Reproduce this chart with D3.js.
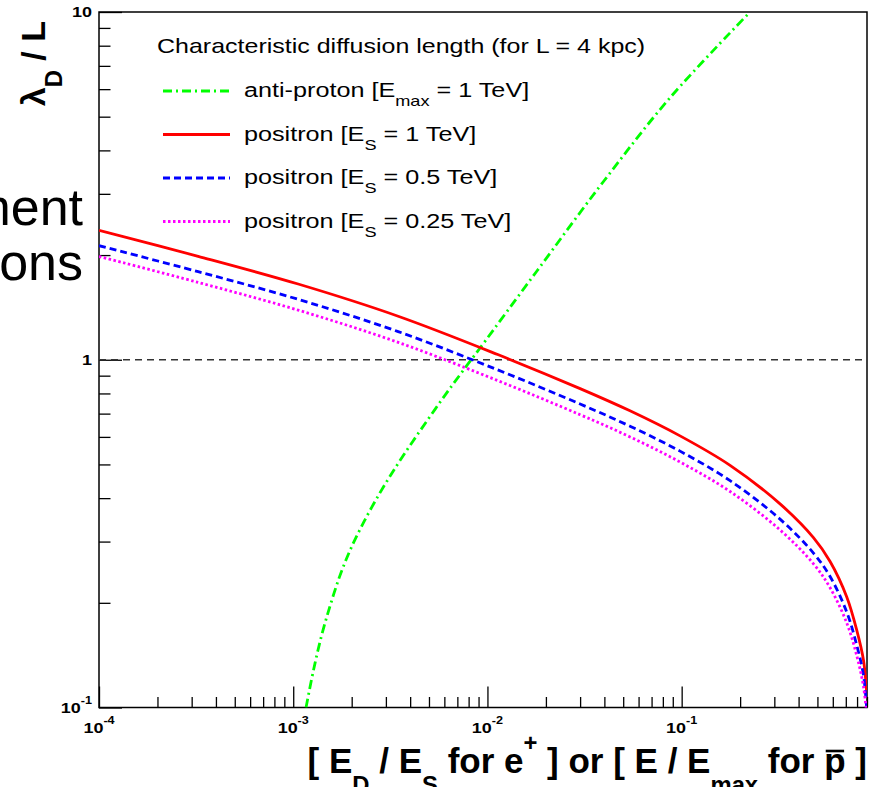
<!DOCTYPE html>
<html>
<head>
<meta charset="utf-8">
<script src="https://cdn.jsdelivr.net/npm/d3@7"></script>
<style>
    body { margin: 0; background: #fff; }
    svg text { font-family: "Liberation Sans", Arial, Helvetica, sans-serif; }
</style>
</head>
<body>
<div id="chart"></div>
<script>
//Data (E_D/E_S or E/E_max -> lambda_D / L)
const ratioPositron = [1e-4, 3.24e-4, 1.06e-3, 3.47e-3, 1.13e-2, 3.0e-2, 5.42e-2, 9.81e-2, 0.1775, 0.321, 0.477, 0.581, 0.708, 0.797, 0.863, 0.897];
const lambdaPositron1 = [2.355, 1.984, 1.651, 1.334, 1.035, 0.826, 0.713, 0.604, 0.497, 0.385, 0.308, 0.263, 0.208, 0.167, 0.137, 0.110];
const lambdaPositron05 = [2.128, 1.792, 1.492, 1.205, 0.935, 0.746, 0.644, 0.546, 0.449, 0.348, 0.278, 0.238, 0.188, 0.151, 0.124, 0.099];
const lambdaPositron025 = [1.982, 1.669, 1.389, 1.122, 0.871, 0.695, 0.600, 0.508, 0.418, 0.324, 0.259, 0.221, 0.175, 0.141, 0.115, 0.095];

const ratioAntiproton = [1.164e-3, 1.27e-3, 1.40e-3, 1.55e-3, 1.74e-3, 1.96e-3, 2.30e-3, 2.80e-3, 3.41e-3, 4.15e-3, 5.06e-3, 6.17e-3, 7.37e-3, 9.16e-3, 1.79e-2, 3.95e-2, 8.71e-2, 0.225];
const lambdaAntiproton = [0.1, 0.1276, 0.1611, 0.1964, 0.2395, 0.2828, 0.3401, 0.4148, 0.496, 0.585, 0.6867, 0.8031, 0.9194, 1.081, 1.794, 3.25, 5.668, 10];

//Axes
const xDomain = [1e-4, 0.9];
const yDomain = [0.1, 10];
const xMajorTicks = [1e-4, 1e-3, 1e-2, 1e-1];
const xTickExponents = ['-4', '-3', '-2', '-1'];
const yMajorTicks = [0.1, 1, 10];
const yTickBases = ['10', '1', '10'];
const yTickExponents = ['-1', '', ''];
const referenceLevel = 1;

//Legend
const legendTitle = 'Characteristic diffusion length (for L = 4 kpc)';
const legendLabels = [
    [{t: 'anti-proton [E'}, {t: 'max', sub: true}, {t: ' = 1 TeV]'}],
    [{t: 'positron [E'}, {t: 'S', sub: true}, {t: ' = 1 TeV]'}],
    [{t: 'positron [E'}, {t: 'S', sub: true}, {t: ' = 0.5 TeV]'}],
    [{t: 'positron [E'}, {t: 'S', sub: true}, {t: ' = 0.25 TeV]'}]
];
const slideText = ['ment', 'ons'];

const COLOR_GREEN = '#00ff00', COLOR_RED = '#ff0000', COLOR_BLUE = '#0000ff', COLOR_MAGENTA = '#ff00ff';

let series = [
    {x: ratioAntiproton, y: lambdaAntiproton, color: COLOR_GREEN, dash: '9,4,2,4'},
    {x: ratioPositron, y: lambdaPositron1, color: COLOR_RED, dash: null},
    {x: ratioPositron, y: lambdaPositron05, color: COLOR_BLUE, dash: '7,4'},
    {x: ratioPositron, y: lambdaPositron025, color: COLOR_MAGENTA, dash: '2.5,2.5'}
];

let width = 880, height = 787;
let frame = {left: 99, right: 867, top: 12, bottom: 707.5};
let stretch = 1.2; //texts of the original are drawn wider than high

let svg = d3.select('#chart')
    .append('svg')
        .attr('width', width)
        .attr('height', height)
        .style('display', 'block');

svg.append('rect').attr('width', width).attr('height', height).attr('fill', '#fff');

//Leftover slide text at the left edge
svg.append('g')
    .selectAll('text')
    .data(slideText)
    .enter()
    .append('text')
    .attr('x', 83)
    .attr('y', function(d, i) { return 225 + i * 55; })
    .attr('text-anchor', 'end')
    .attr('font-size', 52)
    .attr('fill', '#000')
    .text(function(d) { return d; });

let x = d3.scaleLog().domain(xDomain).range([frame.left, frame.right]);
let y = d3.scaleLog().domain(yDomain).range([frame.bottom, frame.top]);

//Minor ticks (2..9 in every decade)
let xMinor = [], yMinor = [];
for (let e = -4; e <= -1; e++) {
    for (let k = 2; k <= 9; k++) {
        let v = k * Math.pow(10, e);
        if (v <= xDomain[1]) xMinor.push(v);
    }
}
for (let e = -1; e <= 0; e++) {
    for (let k = 2; k <= 9; k++) yMinor.push(k * Math.pow(10, e));
}

//Frame
svg.append('rect')
    .attr('x', frame.left)
    .attr('y', frame.top)
    .attr('width', frame.right - frame.left)
    .attr('height', frame.bottom - frame.top)
    .attr('fill', 'none')
    .attr('stroke', '#000')
    .attr('stroke-width', 1.5);

function styleAxis(g) {
    g.select('.domain').remove();
    g.selectAll('line').attr('stroke', '#000').attr('stroke-width', 1.3);
}

svg.append('g')
    .attr('transform', 'translate(0,' + frame.bottom + ')')
    .call(d3.axisBottom(x).tickValues(xMajorTicks).tickSize(-21).tickFormat(''))
    .call(styleAxis);
svg.append('g')
    .attr('transform', 'translate(0,' + frame.bottom + ')')
    .call(d3.axisBottom(x).tickValues(xMinor).tickSize(-10.5).tickFormat(''))
    .call(styleAxis);
svg.append('g')
    .attr('transform', 'translate(' + frame.left + ',0)')
    .call(d3.axisLeft(y).tickValues(yMajorTicks).tickSize(-23).tickFormat(''))
    .call(styleAxis);
svg.append('g')
    .attr('transform', 'translate(' + frame.left + ',0)')
    .call(d3.axisLeft(y).tickValues(yMinor).tickSize(-11.5).tickFormat(''))
    .call(styleAxis);

//Tick labels, 10^n written with a superscript
function powerLabel(sel, base, exp, size) {
    sel.append('tspan').text(base);
    if (exp) {
        sel.append('tspan')
            .attr('font-size', size * 0.7)
            .attr('dy', -size * 0.6)
            .text(exp);
    }
}

svg.append('g')
    .selectAll('text')
    .data(xMajorTicks)
    .enter()
    .append('text')
    .attr('transform', function(d) { return 'translate(' + x(d) + ',' + (frame.bottom + 25) + ') scale(' + stretch + ',1)'; })
    .attr('text-anchor', 'middle')
    .attr('font-size', 15)
    .attr('font-weight', 'bold')
    .each(function(d, i) { powerLabel(d3.select(this), '10', xTickExponents[i], 15); });

svg.append('g')
    .selectAll('text')
    .data(yMajorTicks)
    .enter()
    .append('text')
    .attr('transform', function(d) { return 'translate(' + (frame.left - 7) + ',' + (y(d) + 5) + ') scale(' + stretch + ',1)'; })
    .attr('text-anchor', 'end')
    .attr('font-size', 15)
    .attr('font-weight', 'bold')
    .each(function(d, i) { powerLabel(d3.select(this), yTickBases[i], yTickExponents[i], 15); });

//Rich text helper (sub / superscripts)
function richText(sel, parts, size, subScale, subShift, supShift) {
    let shift = 0;
    parts.forEach(function(p) {
        let target = p.sub ? subShift : (p.sup ? -supShift : 0);
        sel.append('tspan')
            .attr('dy', target - shift)
            .attr('font-size', (p.sub || p.sup) ? size * subScale : size)
            .text(p.t);
        shift = target;
    });
}

//Axis titles
let yTitle = svg.append('text')
    .attr('transform', 'translate(45,21) rotate(-90)')
    .attr('text-anchor', 'end')
    .attr('font-size', 34)
    .attr('font-weight', 'bold');
richText(yTitle, [{t: 'λ'}, {t: 'D', sub: true}, {t: ' / L'}], 34, 0.7, 17, 0);

let xTitleParts = [
    {t: '[ E'}, {t: 'D', sub: true}, {t: ' / E'}, {t: 'S', sub: true}, {t: ' for e'}, {t: '+', sup: true},
    {t: ' ] or [ E / E'}, {t: 'max', sub: true}, {t: ' for '}, {t: 'p'}, {t: ' ]'}
];
let xTitle = svg.append('text')
    .attr('x', 867)
    .attr('y', 773)
    .attr('text-anchor', 'end')
    .attr('font-size', 35)
    .attr('font-weight', 'bold');
richText(xTitle, xTitleParts, 35, 0.68, 20, 22);

//Bar over the anti-proton "p"
let fullTitle = xTitleParts.map(function(p) { return p.t; }).join('');
let pBox = xTitle.node().getExtentOfChar(fullTitle.lastIndexOf('p'));
svg.append('line')
    .attr('x1', pBox.x + 1.5)
    .attr('x2', pBox.x + pBox.width - 1.5)
    .attr('y1', 751)
    .attr('y2', 751)
    .attr('stroke', '#000')
    .attr('stroke-width', 2.6);

//Curves
svg.append('clipPath')
    .attr('id', 'frameClip')
    .append('rect')
    .attr('x', frame.left)
    .attr('y', frame.top)
    .attr('width', frame.right - frame.left)
    .attr('height', frame.bottom - frame.top);

let plot = svg.append('g').attr('clip-path', 'url(#frameClip)');

plot.append('line')
    .attr('x1', x(xDomain[0]))
    .attr('x2', x(xDomain[1]))
    .attr('y1', y(referenceLevel))
    .attr('y2', y(referenceLevel))
    .attr('stroke', '#333')
    .attr('stroke-width', 1.3)
    .attr('stroke-dasharray', '7,5');

let line = d3.line()
    .x(function(d) { return x(d[0]); })
    .y(function(d) { return y(d[1]); })
    .curve(d3.curveCatmullRom.alpha(0.5));

plot.selectAll('.curve')
    .data(series)
    .enter()
    .append('path')
    .attr('class', 'curve')
    .attr('d', function(s) { return line(d3.zip(s.x, s.y)); })
    .attr('fill', 'none')
    .attr('stroke', function(s) { return s.color; })
    .attr('stroke-width', 2.8)
    .attr('stroke-dasharray', function(s) { return s.dash; });

//Legend (no border)
svg.append('text')
    .attr('transform', 'translate(157,53) scale(1.19,1)')
    .attr('font-size', 21)
    .text(legendTitle);

let rows = svg.append('g')
    .selectAll('g')
    .data(series)
    .enter()
    .append('g')
    .attr('transform', function(d, i) { return 'translate(0,' + (91 + i * 43.5) + ')'; });

rows.append('line')
    .attr('x1', 163)
    .attr('x2', 230)
    .attr('stroke', function(s) { return s.color; })
    .attr('stroke-width', 2.8)
    .attr('stroke-dasharray', function(s) { return s.dash; });

rows.append('text')
    .attr('transform', 'translate(244,6) scale(' + stretch + ',1)')
    .attr('font-size', 21)
    .each(function(d, i) { richText(d3.select(this), legendLabels[i], 21, 0.72, 9, 0); });
</script>
</body>
</html>
